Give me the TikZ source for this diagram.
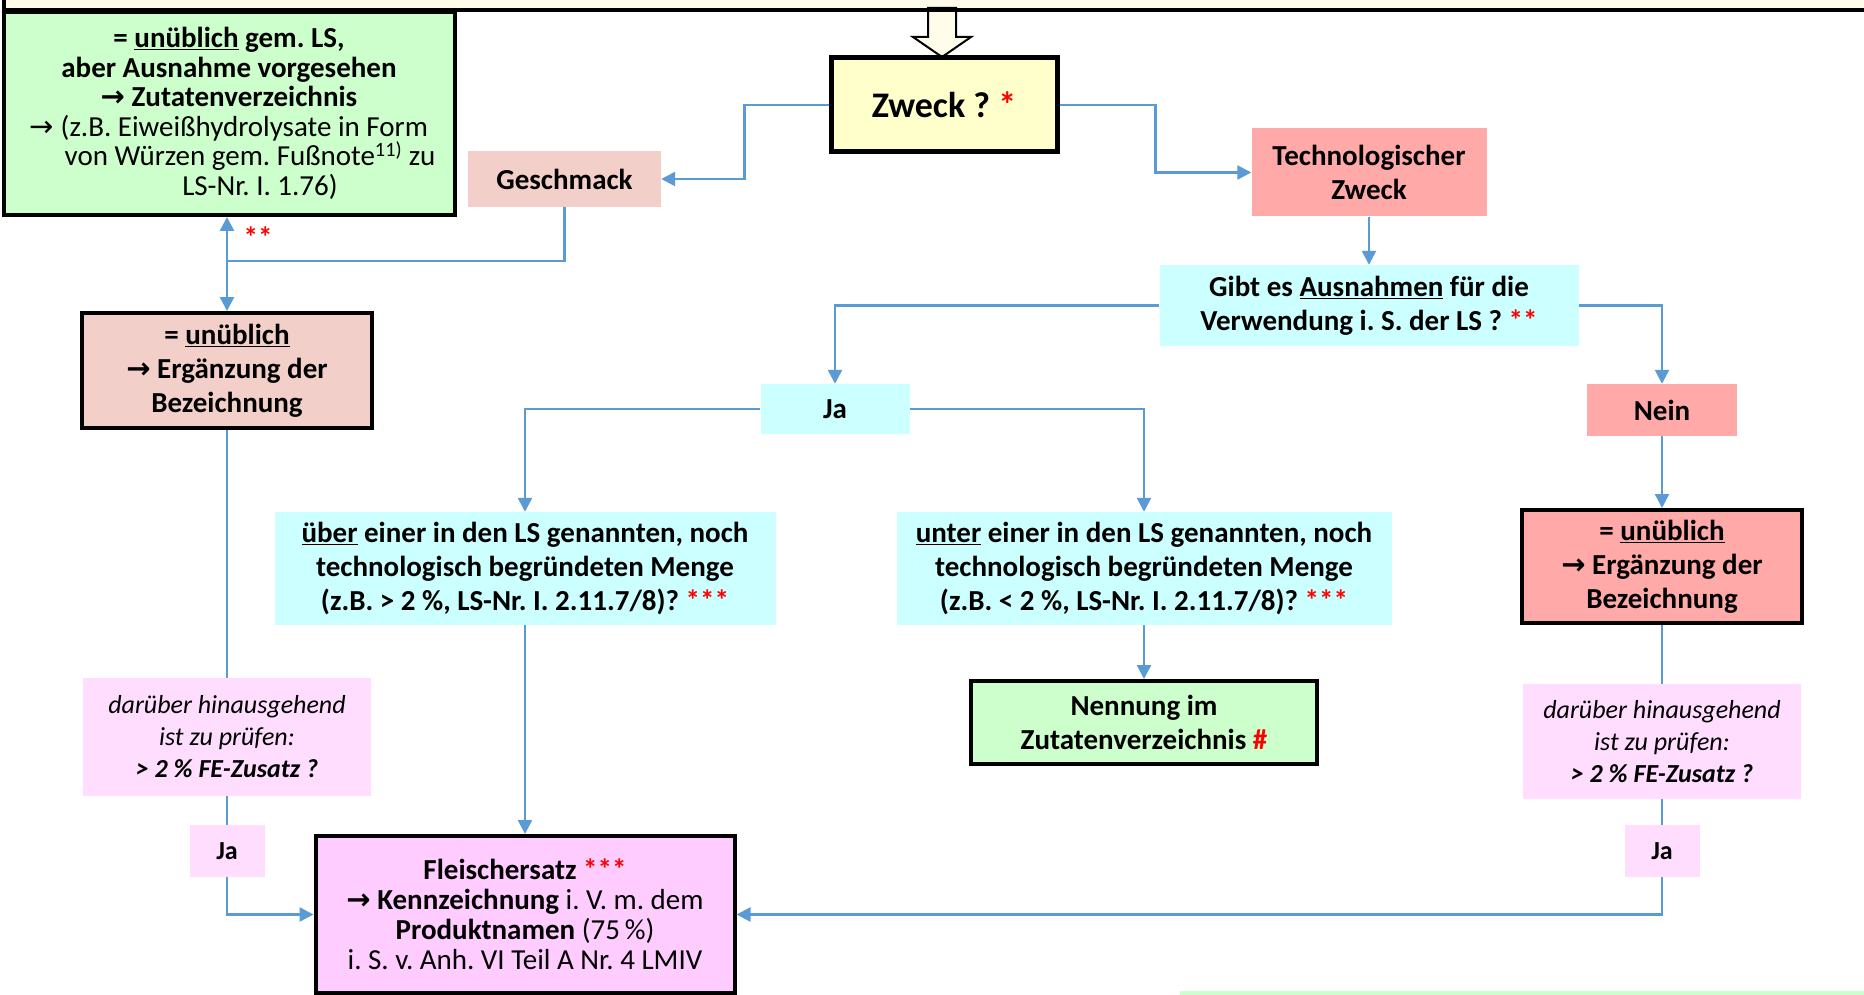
\documentclass[tikz,border=0pt]{standalone}
\usepackage{fontspec}
\setmainfont{Carlito}
\newfontfamily\arrowfont{DejaVu Sans}
\usepackage{tikz}
\usetikzlibrary{arrows.meta,positioning,calc}
\frenchspacing

\definecolor{cream}{HTML}{FFFDE9}
\definecolor{flowblue}{HTML}{5B9BD5}
\definecolor{lightgreen}{HTML}{CCFFCC}
\definecolor{rosebeige}{HTML}{F2D0C9}
\definecolor{salmon}{HTML}{FFA9A9}
\definecolor{lightcyan}{HTML}{CCFFFF}
\definecolor{lightyellow}{HTML}{FFFFCC}
\definecolor{paleviolet}{HTML}{FFDDFF}
\definecolor{violet}{HTML}{FFCCFF}

\newcommand{\arr}{{\arrowfont →}}
\newcommand{\rot}[1]{\textcolor{red}{#1}}

\begin{document}
\begin{tikzpicture}[
    x=1pt, y=-1pt,
    box/.style={align=center, inner sep=0pt, font=\fontsize{29}{34}\selectfont\bfseries},
    framed/.style={box, draw=black, line width=4pt},
    question/.style={box, fill=lightcyan},
    hint/.style={box, fill=paleviolet, font=\fontsize{26}{32}\selectfont\bfseries},
    flow/.style={-{Triangle[length=14pt,width=14pt]}, line width=2.5pt, draw=flowblue},
    plain/.style={line width=2.5pt, draw=flowblue}
]
    \useasboundingbox (0,0) rectangle (1864,995);

    % band at the top and the wide arrow into the question
    \fill[cream] (3.5,-10) rectangle (1880,8);
    \draw[line width=2pt, fill=cream] (928,8) -- (928,37) -- (913,37) -- (942,57)
        -- (971,37) -- (956,37) -- (956,8) -- cycle;
    \draw[line width=4pt] (3.5,-10) -- (3.5,10) -- (1880,10);

    \node[framed, fill=lightgreen, minimum width=451, minimum height=203,
        font=\fontsize{29}{29.5}\selectfont\bfseries] (zutaten) at (229,113.5)
        {= \underline{unüblich} gem. LS,\\
         aber Ausnahme vorgesehen\\
         \arr{} Zutatenverzeichnis\\
         \mdseries \arr{} (z.B. Eiweißhydrolysate in Form\\
         \mdseries\hspace*{42pt}von Würzen gem. Fußnote\textsuperscript{11)} zu\\
         \mdseries\hspace*{62pt}LS-Nr. I. 1.76)};
    \node[framed, line width=5pt, fill=lightyellow, minimum width=226, minimum height=94] (zweck) at (944,105)
        {\fontsize{36}{42}\selectfont Zweck ? \rot{*}};
    \node[box, fill=rosebeige, minimum width=193, minimum height=56] (geschmack) at (564.5,179) {Geschmack};
    \node[box, fill=salmon, minimum width=235, minimum height=88] (tech) at (1369,172.5) {Technologischer\\Zweck};
    \node[question, minimum width=419, minimum height=81] (ausnahmen) at (1369,305.5)
        {Gibt es \underline{Ausnahmen} für die\\Verwendung i. S. der LS ? \rot{**}};
    \node[question, minimum width=149, minimum height=50] (ja) at (835,409) {Ja};
    \node[box, fill=salmon, minimum width=150, minimum height=52] (nein) at (1662,410) {Nein};
    \node[question, minimum width=501, minimum height=113] (ueber) at (525,568.5)
        {\underline{über} einer in den LS genannten, noch\\technologisch begründeten Menge\\(z.B. > 2 \%, LS-Nr. I. 2.11.7/8)? \rot{***}};
    \node[question, minimum width=495, minimum height=113] (unter) at (1144,568.5)
        {\underline{unter} einer in den LS genannten, noch\\technologisch begründeten Menge\\(z.B. < 2 \%, LS-Nr. I. 2.11.7/8)? \rot{***}};
    \node[framed, fill=lightgreen, minimum width=346, minimum height=83] (nennung) at (1144,722.5)
        {Nennung im\\Zutatenverzeichnis \rot{\#}};

    \node[framed, fill=rosebeige, minimum width=290, minimum height=115] (unueblichL) at (227,370.5)
        {= \underline{unüblich}\\\arr{} Ergänzung der\\Bezeichnung};
    \node[framed, fill=salmon, minimum width=280, minimum height=113] (unueblichR) at (1662,566.5)
        {= \underline{unüblich}\\\arr{} Ergänzung der\\Bezeichnung};
    \node[hint, minimum width=288, minimum height=118] (pruefL) at (227,737)
        {\mdseries\itshape darüber hinausgehend\\\mdseries\itshape ist zu prüfen:\\\bfseries\itshape > 2 \% FE-Zusatz ?};
    \node[hint, minimum width=278, minimum height=115] (pruefR) at (1662,741.5)
        {\mdseries\itshape darüber hinausgehend\\\mdseries\itshape ist zu prüfen:\\\bfseries\itshape > 2 \% FE-Zusatz ?};
    \node[hint, minimum width=75, minimum height=52] (jaL) at (227,851) {Ja};
    \node[hint, minimum width=75, minimum height=52] (jaR) at (1662,851) {Ja};
    \node[framed, fill=violet, minimum width=419, minimum height=157,
        font=\fontsize{29}{30}\selectfont\bfseries] (fleisch) at (525,914.5)
        {Fleischersatz \rot{***}\\
         \arr{} Kennzeichnung {\mdseries i. V. m. dem}\\
         Produktnamen {\mdseries (75\,\%)}\\
         \mdseries i. S. v. Anh. VI Teil A Nr. 4 LMIV};

    % strip of a further box at the lower edge
    \fill[lightgreen] (1180,991) rectangle (1880,1000);

    \coordinate (split) at (227,261);

    \draw[flow] (zweck.west) -- ++(-84,0) |- (geschmack.east);
    \draw[flow] (zweck.east) -- ++(96,0) |- (tech.west);
    \draw[plain] (geschmack.south) |- (split);
    \draw[flow] (split) -- node[pos=0.55, right=12pt, font=\fontsize{29}{34}\selectfont\bfseries, text=red] (sterne) {**}
        (split |- zutaten.south);
    \draw[flow] (split) -- (unueblichL.north);
    \draw[flow] (tech) -- (ausnahmen);
    \draw[flow] (ausnahmen.west) -| (ja.north);
    \draw[flow] (ausnahmen.east) -| (nein.north);
    \draw[flow] (ja.west) -| (ueber.north);
    \draw[flow] (ja.east) -| (unter.north);
    \draw[flow] (unter) -- (nennung);
    \draw[flow] (ueber) -- (fleisch);
    \draw[flow] (nein) -- (unueblichR);
    \draw[plain] (unueblichL) -- (pruefL);
    \draw[plain] (pruefL) -- (jaL);
    \draw[flow] (jaL.south) |- (fleisch.west);
    \draw[plain] (unueblichR) -- (pruefR);
    \draw[plain] (pruefR) -- (jaR);
    \draw[flow] (jaR.south) |- (fleisch.east);
\end{tikzpicture}
\end{document}
